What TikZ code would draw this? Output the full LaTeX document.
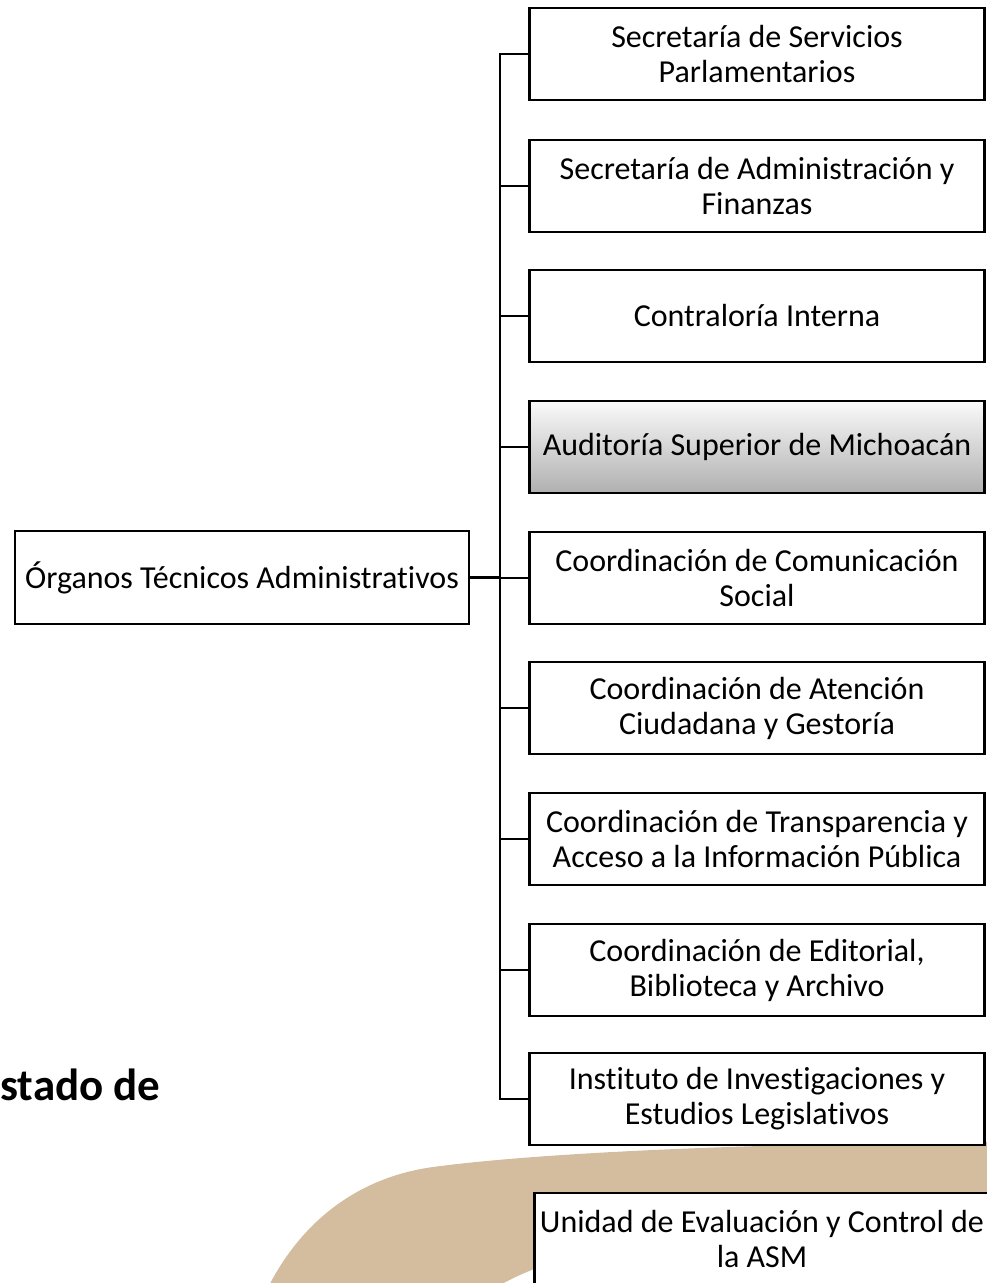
\documentclass[tikz,border=0pt]{standalone}
\usepackage{fontspec}
\setmainfont[Ligatures=NoCommon]{Carlito}
\definecolor{asmtan}{RGB}{212,188,158}
\tikzset{
  unit/.style={draw, line width=1.3pt, fill=white, minimum width=227.5pt, minimum height=46pt,
    align=center, inner sep=0pt, font=\fontsize{16}{17.5}\selectfont},
  shadedunit/.style={unit, top color=gray!4, bottom color=gray!62},
  bus/.style={line width=1.4pt, line join=miter},
}
\begin{document}
\begin{tikzpicture}[x=0.5pt,y=-0.5pt]
  \useasboundingbox (0,0) rectangle (986,1283);

  % swoosh behind the boxes
  \fill[asmtan] (990,1142) .. controls (800,1143) and (560,1150) .. (433,1167)
    .. controls (360,1177) and (298,1220) .. (262,1300) -- (479,1300)
    .. controls (540,1245) and (750,1212) .. (990,1205) -- cycle;

  \node[anchor=base west, inner sep=0pt, font=\fontsize{22.5}{26}\selectfont\bfseries] (title) at (0,1100) {stado de};

  \node[unit, minimum width=227pt, minimum height=46.5pt] (org) at (242,577.5) {Órganos Técnicos Administrativos};

  \node[unit] (u1) at (757,54) {Secretaría de Servicios\\Parlamentarios};
  \node[unit] (u2) at (757,186) {Secretaría de Administración y\\Finanzas};
  \node[unit] (u3) at (757,316) {Contraloría Interna};
  \node[shadedunit] (u4) at (757,447) {Auditoría Superior de Michoacán};
  \node[unit] (u5) at (757,578) {Coordinación de Comunicación\\Social};
  \node[unit] (u6) at (757,708) {Coordinación de Atención\\Ciudadana y Gestoría};
  \node[unit] (u7) at (757,839) {Coordinación de Transparencia y\\Acceso a la Información Pública};
  \node[unit] (u8) at (757,970) {Coordinación de Editorial,\\Biblioteca y Archivo};
  \node[unit] (u9) at (757,1099) {Instituto de Investigaciones y\\Estudios Legislativos};

  \node[unit] (asm) at (762,1239) {Unidad de Evaluación y Control de\\la ASM};

  \coordinate (bus) at (500,577.5);
  \draw[bus] (u1.west) -- (u1.west -| bus) -- (u9.west -| bus) -- (u9.west);
  \foreach \i in {2,...,8} \draw[bus] (u\i.west) -- (u\i.west -| bus);
  \draw[bus] (org.east) -- (bus);

\end{tikzpicture}
\end{document}
